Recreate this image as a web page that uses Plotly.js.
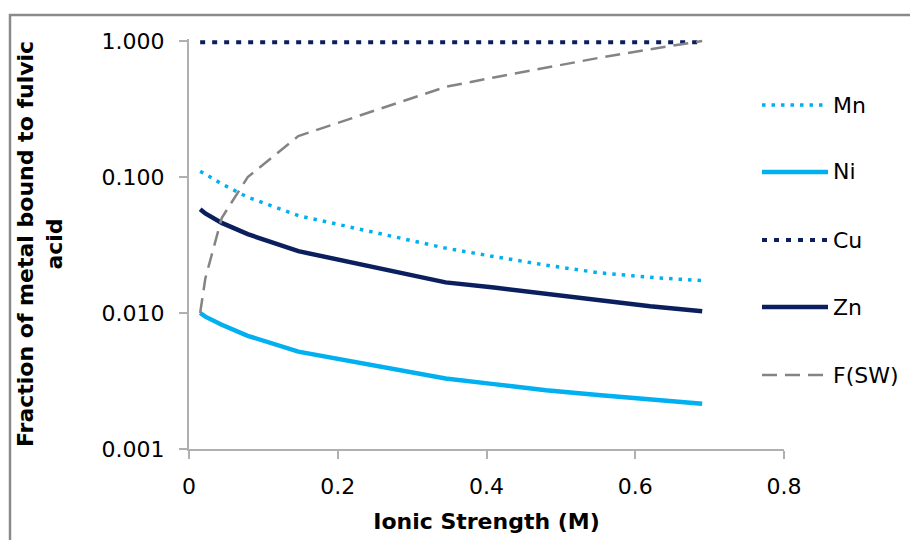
<!DOCTYPE html>
<html>
<head>
<meta charset="utf-8">
<script src="https://cdn.plot.ly/plotly-3.0.1.min.js"></script>
<style>html,body{margin:0;padding:0;background:#fff;}#chart{width:910px;height:540px;}</style>
</head>
<body>
<div id="chart"></div>
<script>
// ---- data ----
const ionicStrength = [0.015, 0.022, 0.044, 0.079, 0.147, 0.345, 0.41, 0.48, 0.55, 0.62, 0.69];
const mnFraction  = [0.110, 0.105, 0.089, 0.071, 0.052, 0.030, 0.026, 0.0225, 0.0198, 0.0183, 0.0173];
const niFraction  = [0.0100, 0.0094, 0.0082, 0.0068, 0.0052, 0.0033, 0.0030, 0.0027, 0.0025, 0.0023, 0.00215];
const cuFraction  = [0.98, 0.98, 0.98, 0.98, 0.98, 0.98, 0.98, 0.98, 0.98, 0.98, 0.98];
const znFraction  = [0.058, 0.054, 0.046, 0.038, 0.0285, 0.0168, 0.0154, 0.0139, 0.0124, 0.0112, 0.0103];
const fswFraction = [0.010, 0.018, 0.05, 0.10, 0.20, 0.46, 0.54, 0.64, 0.75, 0.87, 1.0];
const seriesNames = ['Mn', 'Ni', 'Cu', 'Zn', 'F(SW)'];
const yTickVals = [0.001, 0.01, 0.1, 1];
const yTickText = ['0.001', '0.010', '0.100', '1.000'];

// ---- styles ----
const LIGHT = '#00B0F0', NAVY = '#0B1F5E', GREY = '#848484';
const styles = [
  {color: LIGHT, width: 3.5, dash: '3.5px,6px'},
  {color: LIGHT, width: 4.5, dash: 'solid'},
  {color: NAVY,  width: 4,   dash: '5px,7px'},
  {color: NAVY,  width: 4.5, dash: 'solid'},
  {color: GREY,  width: 2.5, dash: '15px,8px'}
];
const ys = [mnFraction, niFraction, cuFraction, znFraction, fswFraction];

const traces = ys.map((y, i) => ({
  type: 'scatter', mode: 'lines', name: seriesNames[i],
  x: ionicStrength, y: y,
  line: {color: styles[i].color, width: styles[i].width, dash: styles[i].dash},
  showlegend: false, hoverinfo: 'skip'
}));

// plot geometry (px)
const W = 910, H = 540, L = 189, R = 784, T = 39, B = 449;
const xp = px => (px - L) / (R - L);
const yp = py => (B - py) / (B - T);

// custom legend (long sample lines like the original)
const legendY = [105, 172, 240, 307, 375];
const shapes = [];
const annotations = [];
legendY.forEach((py, i) => {
  shapes.push({type: 'line', xref: 'paper', yref: 'paper',
    x0: xp(762), x1: xp(828), y0: yp(py), y1: yp(py),
    line: {color: styles[i].color, width: styles[i].width, dash: styles[i].dash}});
  annotations.push({xref: 'paper', yref: 'paper', x: xp(831), y: yp(py),
    xanchor: 'left', yanchor: 'middle', showarrow: false, text: seriesNames[i],
    font: {family: 'DejaVu Sans, Verdana, sans-serif', size: 22, color: '#000'}});
});
// chart frame
shapes.push({type: 'rect', xref: 'paper', yref: 'paper', layer: 'below',
  x0: xp(10), x1: xp(930), y0: yp(560), y1: yp(15),
  line: {color: '#8a8a8a', width: 2.5}, fillcolor: 'rgba(0,0,0,0)'});

const axisCommon = {
  showgrid: false, zeroline: false, showline: true,
  linecolor: '#b0b0b0', linewidth: 2,
  ticks: 'outside', ticklen: 8, tickwidth: 2, tickcolor: '#b0b0b0',
  tickfont: {family: 'DejaVu Sans, Verdana, sans-serif', size: 22, color: '#000'}
};

const layout = {
  width: W, height: H,
  margin: {l: L, r: W - R, t: T, b: H - B, pad: 0},
  paper_bgcolor: '#fff', plot_bgcolor: '#fff',
  xaxis: Object.assign({}, axisCommon, {
    range: [0, 0.8], tickvals: [0, 0.2, 0.4, 0.6, 0.8], ticktext: ['0', '0.2', '0.4', '0.6', '0.8'],
    ticklabelstandoff: 9,
    title: {text: 'Ionic Strength (M)', standoff: 15,
      font: {family: 'DejaVu Sans, Verdana, sans-serif', size: 22, color: '#000', weight: 'bold'}}
  }),
  yaxis: Object.assign({}, axisCommon, {
    type: 'log', range: [-3, 0.015], tickvals: yTickVals, ticktext: yTickText,
    ticklabelstandoff: 10,
    title: {text: 'Fraction of metal bound to fulvic<br>acid', standoff: 33,
      font: {family: 'DejaVu Sans, Verdana, sans-serif', size: 22, color: '#000', weight: 'bold'}}
  }),
  shapes: shapes,
  annotations: annotations
};

Plotly.newPlot('chart', traces, layout, {staticPlot: true, displayModeBar: false});
</script>
</body>
</html>
